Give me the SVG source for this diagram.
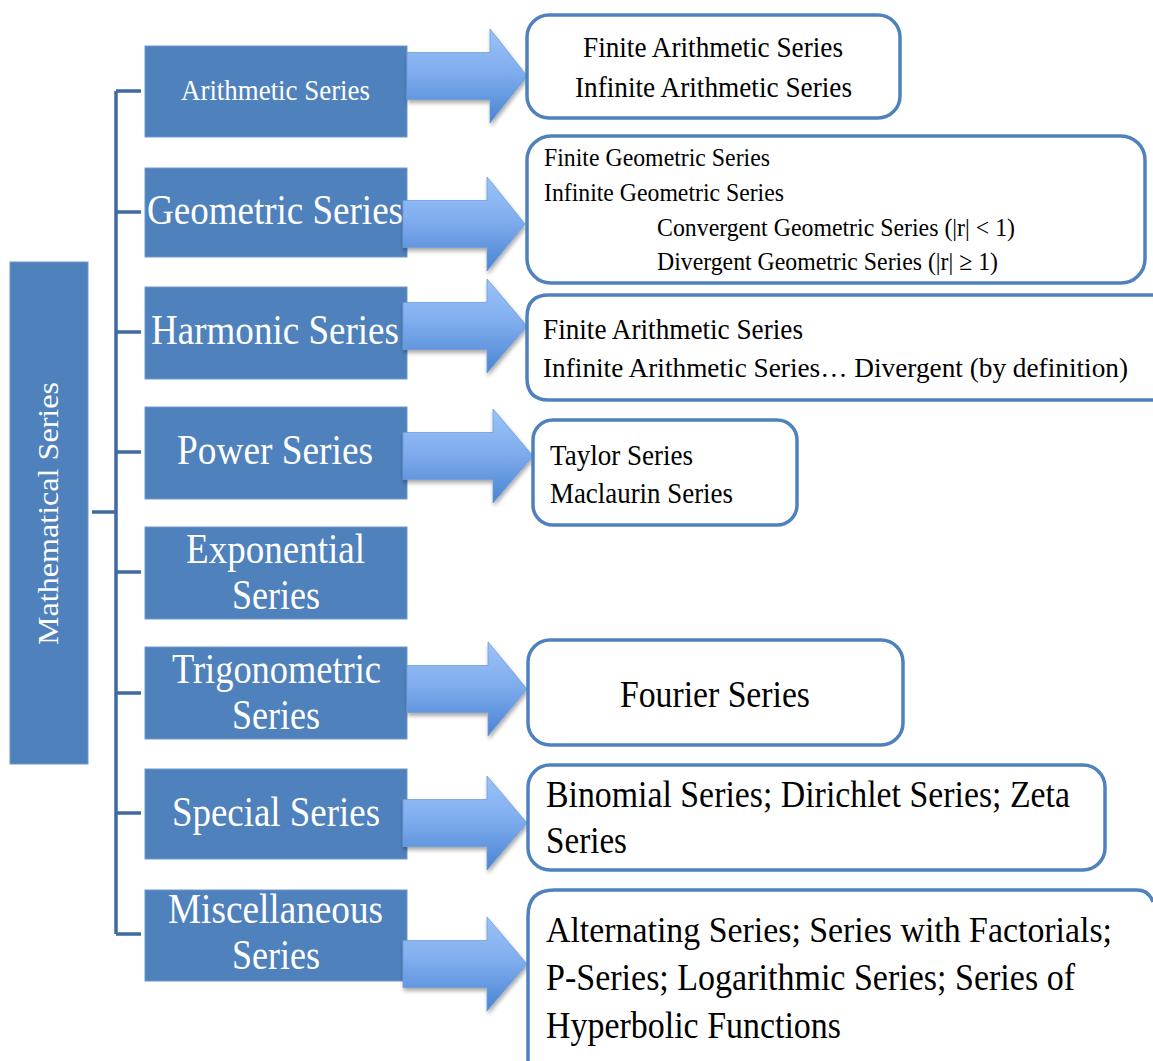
<svg xmlns="http://www.w3.org/2000/svg" width="1153" height="1061" viewBox="0 0 1153 1061">
  <style>
    .blk { fill: #4F81BD; stroke: #6E97CC; stroke-width: 1; }
    .wt { fill: #FFFFFF; font-family: "Liberation Serif", "DejaVu Serif", serif; }
    .bt { fill: #000000; font-family: "Liberation Serif", "DejaVu Serif", serif; }
    .rbox { fill: #FFFFFF; stroke: #4F81BD; stroke-width: 3.5; }
    .tree { fill: none; stroke: #3E6A9E; stroke-width: 3.5; }
    .arr { fill: url(#ag); stroke: #6C9CDA; stroke-width: 0.8; filter: url(#sh); }
  </style>
  <defs>
    <linearGradient id="ag" x1="0" y1="0" x2="0" y2="1">
      <stop offset="0" stop-color="#9CC2F8"/>
      <stop offset="0.45" stop-color="#80AEEE"/>
      <stop offset="1" stop-color="#4A83D2"/>
    </linearGradient>
    <filter id="sh" x="-10%" y="-10%" width="130%" height="130%">
      <feGaussianBlur in="SourceAlpha" stdDeviation="2"/>
      <feOffset dx="1" dy="3" result="o"/>
      <feComponentTransfer><feFuncA type="linear" slope="0.35"/></feComponentTransfer>
      <feMerge><feMergeNode/><feMergeNode in="SourceGraphic"/></feMerge>
    </filter>
  </defs>

  <g id="root">
    <rect class="blk" x="10" y="262" width="78" height="502"/>
    <text class="wt" font-size="30" transform="translate(58,645) rotate(-90)" x="0" y="0" textLength="263" lengthAdjust="spacingAndGlyphs">Mathematical Series</text>
  </g>

  <g id="arithmetic">
    <rect class="blk" x="145" y="46" width="262" height="91"/>
    <text class="wt" font-size="30" x="181" y="100" textLength="189" lengthAdjust="spacingAndGlyphs">Arithmetic Series</text>
  </g>
  <g id="geometric">
    <rect class="blk" x="145" y="168" width="262" height="89"/>
    <text class="wt" font-size="43" x="147" y="224" textLength="256" lengthAdjust="spacingAndGlyphs">Geometric Series</text>
  </g>
  <g id="harmonic">
    <rect class="blk" x="145" y="287" width="262" height="92"/>
    <text class="wt" font-size="43" x="151" y="344" textLength="248" lengthAdjust="spacingAndGlyphs">Harmonic Series</text>
  </g>
  <g id="power">
    <rect class="blk" x="145" y="407" width="262" height="92"/>
    <text class="wt" font-size="42" x="177" y="464" textLength="196" lengthAdjust="spacingAndGlyphs">Power Series</text>
  </g>
  <g id="exponential">
    <rect class="blk" x="145" y="527" width="262" height="92"/>
    <text class="wt" font-size="42" x="186" y="563" textLength="179" lengthAdjust="spacingAndGlyphs">Exponential</text>
    <text class="wt" font-size="42" x="232" y="609" textLength="88" lengthAdjust="spacingAndGlyphs">Series</text>
  </g>
  <g id="trigonometric">
    <rect class="blk" x="145" y="647" width="262" height="92"/>
    <text class="wt" font-size="42" x="172" y="683" textLength="209" lengthAdjust="spacingAndGlyphs">Trigonometric</text>
    <text class="wt" font-size="42" x="232" y="729" textLength="88" lengthAdjust="spacingAndGlyphs">Series</text>
  </g>
  <g id="special">
    <rect class="blk" x="145" y="769" width="262" height="90"/>
    <text class="wt" font-size="42" x="172" y="826" textLength="208" lengthAdjust="spacingAndGlyphs">Special Series</text>
  </g>
  <g id="miscellaneous">
    <rect class="blk" x="145" y="890" width="262" height="91"/>
    <text class="wt" font-size="42" x="168" y="923" textLength="215" lengthAdjust="spacingAndGlyphs">Miscellaneous</text>
    <text class="wt" font-size="42" x="232" y="969" textLength="88" lengthAdjust="spacingAndGlyphs">Series</text>
  </g>

  <g id="connectors">
    <path class="tree" d="M92 512 H116 M116 91 V934 M116 91 H141 M116 212 H141 M116 332 H141 M116 452 H141 M116 572 H141 M116 693 H141 M116 813 H141 M116 934 H141"/>
    <polygon class="arr" points="407,52.5 490,52.5 490,29 527,76 490,123 490,99.5 407,99.5"/>
    <polygon class="arr" points="403,200.5 487,200.5 487,177 525,224 487,271 487,247.5 403,247.5"/>
    <polygon class="arr" points="403,302.5 487,302.5 487,279 527,326 487,373 487,349.5 403,349.5"/>
    <polygon class="arr" points="403,432.5 493,432.5 493,409 533,456 493,503 493,479.5 403,479.5"/>
    <polygon class="arr" points="407,665.5 488,665.5 488,642 527,689 488,736 488,712.5 407,712.5"/>
    <polygon class="arr" points="403,799.5 487,799.5 487,776 527,823 487,870 487,846.5 403,846.5"/>
    <polygon class="arr" points="403,940.5 487,940.5 487,917 527,964 487,1011 487,987.5 403,987.5"/>
  </g>

  <g id="arithmetic-types">
    <rect class="rbox" x="527" y="15" width="373" height="103" rx="22"/>
    <text class="bt" font-size="30" x="583" y="57" textLength="260" lengthAdjust="spacingAndGlyphs">Finite Arithmetic Series</text>
    <text class="bt" font-size="30" x="575" y="97" textLength="277" lengthAdjust="spacingAndGlyphs">Infinite Arithmetic Series</text>
  </g>
  <g id="geometric-types">
    <rect class="rbox" x="527" y="136" width="618" height="147" rx="24"/>
    <text class="bt" font-size="26" x="544" y="166" textLength="226" lengthAdjust="spacingAndGlyphs">Finite Geometric Series</text>
    <text class="bt" font-size="26" x="544" y="201" textLength="240" lengthAdjust="spacingAndGlyphs">Infinite Geometric Series</text>
    <text class="bt" font-size="26" x="657" y="236" textLength="358" lengthAdjust="spacingAndGlyphs">Convergent Geometric Series (|r| &lt; 1)</text>
    <text class="bt" font-size="26" x="657" y="270" textLength="341" lengthAdjust="spacingAndGlyphs">Divergent Geometric Series (|r| ≥ 1)</text>
  </g>
  <g id="harmonic-types">
    <path class="rbox" d="M1153 295 H549 Q527 295 527 317 V378 Q527 400 549 400 H1153"/>
    <text class="bt" font-size="30" x="543" y="339" textLength="260" lengthAdjust="spacingAndGlyphs">Finite Arithmetic Series</text>
    <text class="bt" font-size="28" x="543" y="377" textLength="585" lengthAdjust="spacingAndGlyphs">Infinite Arithmetic Series… Divergent (by definition)</text>
  </g>
  <g id="power-types">
    <rect class="rbox" x="533" y="420" width="264" height="105" rx="20"/>
    <text class="bt" font-size="30" x="550" y="465" textLength="143" lengthAdjust="spacingAndGlyphs">Taylor Series</text>
    <text class="bt" font-size="30" x="550" y="503" textLength="183" lengthAdjust="spacingAndGlyphs">Maclaurin Series</text>
  </g>
  <g id="trigonometric-types">
    <rect class="rbox" x="528" y="640" width="375" height="105" rx="22"/>
    <text class="bt" font-size="37" x="620" y="707" textLength="190" lengthAdjust="spacingAndGlyphs">Fourier Series</text>
  </g>
  <g id="special-types">
    <rect class="rbox" x="528" y="765" width="577" height="105" rx="22"/>
    <text class="bt" font-size="37" x="546" y="807" textLength="524" lengthAdjust="spacingAndGlyphs">Binomial Series; Dirichlet Series; Zeta</text>
    <text class="bt" font-size="37" x="546" y="853" textLength="81" lengthAdjust="spacingAndGlyphs">Series</text>
  </g>
  <g id="miscellaneous-types">
    <path class="rbox" d="M1153 902 Q1149 890 1137 890 H554 Q528 890 528 916 V1061"/>
    <text class="bt" font-size="35" x="546" y="942" textLength="566" lengthAdjust="spacingAndGlyphs">Alternating Series; Series with Factorials;</text>
    <text class="bt" font-size="37" x="546" y="990" textLength="529" lengthAdjust="spacingAndGlyphs">P-Series; Logarithmic Series; Series of</text>
    <text class="bt" font-size="37" x="546" y="1038" textLength="295" lengthAdjust="spacingAndGlyphs">Hyperbolic Functions</text>
  </g>
</svg>
